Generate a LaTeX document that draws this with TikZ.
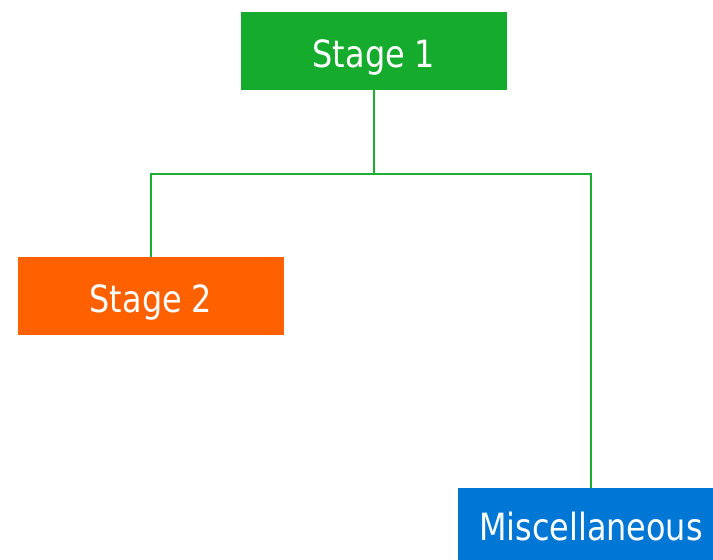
\documentclass[tikz,border=0pt]{standalone}
\usepackage{fontspec}
\setmainfont{DejaVu Sans}[FakeStretch=0.85]
\begin{document}
\begin{tikzpicture}[x=1pt,y=-1pt,
  stagebox/.style={draw=none,minimum width=266pt,minimum height=78pt,inner sep=0pt},
  label/.style={text=white,font=\fontsize{37.5}{42}\selectfont,anchor=base},
  link/.style={draw=linkgreen,line width=2.2pt}]
  \definecolor{boxgreen}{HTML}{15AC2E}
  \definecolor{boxorange}{HTML}{FF6000}
  \definecolor{boxblue}{HTML}{0077D5}
  \definecolor{linkgreen}{HTML}{17B02F}
  \useasboundingbox (0,0) rectangle (713,560);
  \begin{scope}
    \clip (0,0) rectangle (713,560);
    % boxes
    \node[stagebox,fill=boxgreen]  (s1) at (374,51)  {};
    \node[stagebox,fill=boxorange] (s2) at (151,296) {};
    \node[stagebox,fill=boxblue]   (m)  at (591,527) {};
    % connectors
    \coordinate (j) at (374,174);
    \draw[link] (s1.south) -- (j);
    \draw[link] (s2.north) |- (j) -| (m.north);
    % labels
    \node[label] (t1) at (374,67)  {Stage 1};
    \node[label] (t2) at (151,312) {Stage 2};
    \node[label] (t3) at (591,540) {Miscellaneous};
  \end{scope}
\end{tikzpicture}
\end{document}
